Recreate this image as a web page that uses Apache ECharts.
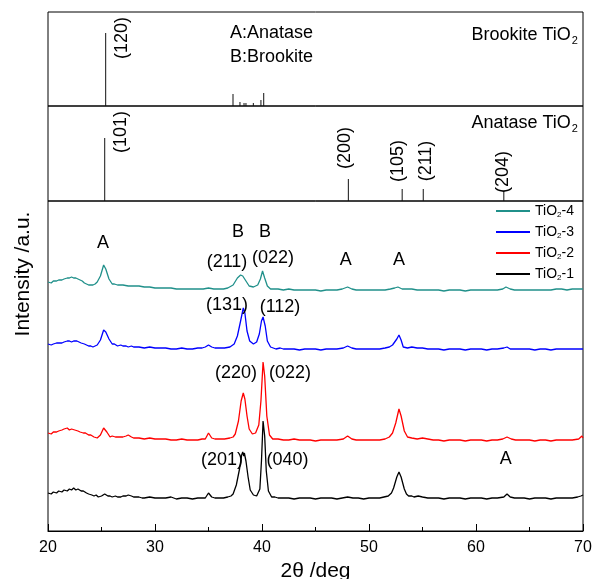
<!DOCTYPE html>
<html lang="en">
<head>
<meta charset="UTF-8">
<title>XRD TiO2</title>
<script src="https://cdn.jsdelivr.net/npm/echarts@6/dist/echarts.min.js"></script>
<style>
body{margin:0;background:#fff}
#main{width:592px;height:579px}
</style>
</head>
<body>
<div id="main"></div>
<script type="text/javascript">
// reference sticks: [2theta, height]
var brookite = [[25.39,73],[37.29,12],[37.94,4],[38.32,3],[38.5,3],[39.19,3],[39.9,6],[40.16,13]];
var anatase = [[25.3,63],[48.07,22],[53.1,12],[55.07,12],[62.6,10]];

// measured patterns (offset, arbitrary units)
var tio1 = [[20,38],[20.3,37],[20.5,39],[20.8,38],[21,40],[21.3,39],[21.5,41],[21.8,40],[22,42],[22.2,41],[22.4,43],[22.6,41],[22.8,42],[23.1,40],[23.3,40],[23.6,38],[23.8,37],[24.1,36],[24.3,35],[24.5,36],[24.7,34],[25.0,35],[25.3,37],[25.6,35],[25.8,35],[26,34],[26.3,35],[26.5,34],[26.8,34],[27,35],[27.3,35],[27.5,36],[27.8,35],[28,34],[28.3,34],[28.5,34],[28.8,33],[29,33],[29.5,34],[30,33],[30.5,33],[31,33],[31.5,34],[32,32],[32.5,33],[33,33],[33.5,32],[34,33],[34.4,33],[34.7,33],[35.0,38],[35.3,34],[35.6,33],[36,33],[36.4,33],[36.8,34],[37.1,35],[37.3,37],[37.6,46],[37.9,62],[38.1,76],[38.2,79],[38.3,75],[38.35,78],[38.5,70],[38.7,54],[38.9,41],[39.2,36],[39.5,35],[39.8,42],[39.95,70],[40.1,110],[40.25,95],[40.4,60],[40.6,40],[40.9,34],[41.2,34],[41.5,33],[42,33],[42.5,33],[43,32],[43.5,33],[44,33],[44.5,33],[45,32],[45.5,33],[46,33],[46.5,33],[47,32],[47.5,33],[48,34],[48.5,33],[49,33],[49.5,32],[50,33],[50.5,33],[51,33],[51.4,34],[51.8,35],[52.1,38],[52.3,43],[52.6,54],[52.8,59],[53.0,54],[53.3,42],[53.5,37],[53.7,35],[54,35],[54.2,34],[54.6,35],[55,34],[55.5,33],[56,33],[56.5,33],[57,32],[57.5,33],[58,33],[58.5,33],[59,32],[59.5,33],[60,33],[60.5,33],[61,32],[61.5,33],[62,33],[62.6,34],[62.9,37],[63.2,34],[63.6,33],[64,33],[64.5,33],[65,32],[65.5,33],[66,33],[66.5,33],[67,32],[67.5,33],[68,33],[68.5,33],[69,33],[69.5,34],[69.8,35],[70,36]];
var tio2 = [[20,98],[20.3,97],[20.5,99],[20.8,99],[21,100],[21.3,101],[21.5,102],[21.8,103],[22,101],[22.2,102],[22.5,101],[22.8,100],[23,99],[23.3,98],[23.5,98],[23.8,96],[24,96],[24.3,94],[24.6,93],[24.9,96],[25.2,103],[25.35,101],[25.5,99],[25.8,94],[26,95],[26.3,94],[26.6,94],[27,94],[27.3,95],[27.5,96],[27.8,94],[28,93],[28.5,93],[29,92],[29.5,93],[30,92],[30.5,92],[31,92],[31.5,91],[32,91],[32.5,92],[33,91],[33.5,91],[34,91],[34.4,92],[34.7,92],[35.0,98],[35.3,93],[35.6,92],[36,92],[36.5,92],[37,93],[37.3,94],[37.5,97],[37.8,110],[38.05,130],[38.25,138],[38.4,132],[38.6,115],[38.8,102],[39.1,97],[39.4,98],[39.7,106],[39.9,130],[40.1,169],[40.25,155],[40.45,115],[40.7,96],[41,92],[41.5,92],[42,91],[42.5,91],[43,92],[43.5,91],[44,91],[44.5,91],[45,90],[45.5,91],[46,91],[46.5,91],[47,91],[47.6,92],[48.0,95],[48.4,92],[48.8,91],[49.3,91],[50,91],[50.5,91],[51,91],[51.5,92],[51.9,94],[52.2,98],[52.5,108],[52.8,122],[53.0,115],[53.3,100],[53.6,94],[54,93],[54.5,92],[55,93],[55.5,92],[56,91],[56.5,91],[57,90],[57.5,91],[58,91],[58.5,91],[59,90],[59.5,91],[60,91],[60.5,91],[61,90],[61.5,91],[62,91],[62.5,92],[62.9,94],[63.3,92],[63.7,91],[64,91],[64.5,91],[65,91],[65.5,90],[66,91],[66.5,91],[67,90],[67.5,91],[68,91],[68.5,91],[69,91],[69.6,92],[69.9,95],[70,93]];
var tio3 = [[20,187],[20.3,186],[20.5,187],[20.8,188],[21,188],[21.3,188],[21.5,189],[21.8,190],[22,190],[22.2,189],[22.4,190],[22.7,190],[22.9,189],[23.1,188],[23.4,187],[23.6,186],[23.8,185],[24.0,185],[24.2,184],[24.4,185],[24.6,186],[24.9,191],[25.2,201],[25.4,199],[25.7,192],[26,187],[26.2,187],[26.5,185],[26.8,186],[27,185],[27.3,185],[27.5,184],[27.8,185],[28,184],[28.5,184],[29,183],[29.5,184],[30,183],[30.5,183],[31,183],[31.5,182],[32,182],[32.5,183],[33,182],[33.5,182],[34,183],[34.4,183],[34.7,184],[35.0,186],[35.3,184],[35.6,183],[36,183],[36.5,183],[37,184],[37.4,187],[37.7,195],[38.0,210],[38.25,223],[38.4,218],[38.6,200],[38.85,190],[39.2,187],[39.5,189],[39.75,197],[39.95,210],[40.1,214],[40.3,205],[40.5,190],[40.8,184],[41.3,182],[41.7,183],[42,182],[42.5,182],[43,182],[43.5,181],[44,182],[44.5,182],[45,182],[45.5,181],[46,182],[46.5,182],[47,182],[47.6,183],[48,185],[48.4,183],[48.8,182],[49.3,182],[50,182],[50.5,182],[51,182],[51.5,183],[51.9,184],[52.2,186],[52.6,192],[52.8,196],[53.0,191],[53.2,184],[53.6,183],[54,184],[54.5,183],[55,183],[55.5,182],[56,182],[56.5,182],[57,181],[57.5,182],[58,182],[58.5,182],[59,181],[59.5,182],[60,182],[60.5,182],[61,181],[61.5,182],[62,182],[62.6,183],[62.9,184],[63.2,182],[63.6,182],[64,182],[64.5,182],[65,182],[65.5,181],[66,182],[66.5,182],[67,181],[67.5,182],[68,182],[68.5,182],[69,182],[69.5,182],[70,182]];
var tio4 = [[20,249],[20.3,248],[20.5,250],[20.8,250],[21,251],[21.3,251],[21.5,252],[21.8,253],[22,253],[22.2,254],[22.4,253],[22.6,253],[22.8,252],[23,251],[23.2,250],[23.4,248],[23.6,247],[23.8,246],[24.0,246],[24.2,246],[24.4,247],[24.6,249],[24.9,255],[25.2,266],[25.4,262],[25.7,252],[26,247],[26.2,247],[26.5,246],[26.8,246],[27,246],[27.5,245],[28,245],[28.5,245],[29,244],[29.5,244],[30,243],[30.5,243],[31,243],[31.5,243],[32,242],[32.5,242],[33,242],[33.5,242],[34,242],[34.5,242],[35,243],[35.5,242],[36,242],[36.4,242],[36.8,243],[37.3,246],[37.7,253],[38.0,256],[38.2,255],[38.5,250],[38.8,245],[39.2,244],[39.6,246],[39.85,252],[40.05,260],[40.25,253],[40.5,245],[40.8,242],[41.2,242],[41.5,242],[42,241],[42.5,242],[43,241],[43.5,241],[44,241],[44.5,241],[45,241],[45.5,240],[46,241],[46.5,241],[47,241],[47.5,242],[48,244],[48.4,242],[48.8,241],[49.3,241],[50,241],[50.5,241],[51,241],[51.5,241],[52,242],[52.4,243],[52.7,244],[53.1,242],[53.5,242],[54,242],[54.5,241],[55,241],[55.5,241],[56,241],[56.5,241],[57,240],[57.5,241],[58,241],[58.5,241],[59,240],[59.5,241],[60,241],[60.5,241],[61,241],[61.5,241],[62,241],[62.5,242],[62.8,244],[63.2,242],[63.6,241],[64,241],[64.5,241],[65,241],[65.5,241],[66,241],[66.5,241],[67,241],[67.5,242],[68,242],[68.5,241],[69,242],[69.5,242],[70,242]];

// labels: [2theta, y, text]
var brookiteNotes = [[26.89,68,'(120)']];
var brookiteText = [[37.0,73,'A:Anatase'],[37.0,49,'B:Brookite']];
var brookiteTitle = [[69.53,71,'Brookite TiO2']];
var anataseNotes = [[26.82,69,'(101)'],[47.76,53,'(200)'],[52.74,40,'(105)'],[55.3,40,'(211)'],[62.5,29,'(204)']];
var anataseTitle = [[69.53,78,'Anatase TiO2']];
var peakNotes = [[25.14,288,'A'],[37.76,299,'B'],[40.28,299,'B'],[36.73,269,'(211)'],[41.03,273,'(022)'],[47.82,271,'A'],[52.8,271,'A'],
  [36.73,226,'(131)'],[41.68,224,'(112)'],[37.57,158,'(220)'],[42.62,158,'(022)'],[36.26,71,'(201)'],[42.38,71,'(040)'],[62.78,72,'A']];

var seriesNames = ['TiO2-4','TiO2-3','TiO2-2','TiO2-1'];
var colors = ['#20908a','#0000ff','#ff0000','#000000'];

var FONT = '"Liberation Sans", Arial, sans-serif';

var myChart = echarts.init(document.getElementById('main'));

function xAx(i, showAxis) {
    return {
        type: 'value', gridIndex: i, min: 20, max: 70, interval: 10,
        axisLine: {show: showAxis, lineStyle: {color: '#000', width: 1}},
        axisTick: {show: showAxis, inside: true, length: 7, lineStyle: {color: '#000'}},
        minorTick: {show: showAxis, splitNumber: 2, length: 4, lineStyle: {color: '#000'}},
        axisLabel: {show: showAxis, fontFamily: FONT, fontSize: 16, color: '#000', margin: 9},
        splitLine: {show: false},
        name: showAxis ? '2θ /deg' : '',
        nameLocation: 'middle', nameGap: 30,
        nameTextStyle: {fontFamily: FONT, fontSize: 21, color: '#000'}
    };
}
function yAx(i, max) {
    return {
        type: 'value', gridIndex: i, min: 0, max: max,
        axisLine: {show: false}, axisTick: {show: false},
        axisLabel: {show: false}, splitLine: {show: false}
    };
}
function notes(data, xi, rotate, align) {
    return {
        type: 'scatter', xAxisIndex: xi, yAxisIndex: xi,
        data: data, symbolSize: 1, itemStyle: {color: 'rgba(0,0,0,0)'}, silent: true, z: 10,
        label: {
            show: true, position: 'inside', rotate: rotate || 0,
            align: align || 'center', verticalAlign: 'middle',
            fontFamily: FONT, fontSize: 18, color: '#000', opacity: 1,
            textBorderWidth: 0,
            formatter: function (p) { return p.value[2].replace('TiO2', 'TiO{s|2}'); },
            rich: {s: {fontFamily: FONT, fontSize: 11, color: '#000', padding: [12, 0, 0, 1]}}
        }
    };
}

var series = [
    {type: 'bar', xAxisIndex: 0, yAxisIndex: 0, data: brookite, barWidth: 1, itemStyle: {color: '#111'}, silent: true},
    {type: 'bar', xAxisIndex: 1, yAxisIndex: 1, data: anatase, barWidth: 1, itemStyle: {color: '#111'}, silent: true}
];
var curves = [tio4, tio3, tio2, tio1];
for (var i = 0; i < curves.length; i++) {
    series.push({
        name: seriesNames[i], type: 'line', xAxisIndex: 2, yAxisIndex: 2,
        data: curves[i], showSymbol: false, symbol: 'none',
        lineStyle: {color: colors[i], width: 1.3}, itemStyle: {color: colors[i]}
    });
}
series.push(notes(brookiteNotes, 0, 90));
series.push(notes(brookiteText, 0, 0, 'left'));
series.push(notes(brookiteTitle, 0, 0, 'right'));
series.push(notes(anataseNotes, 1, 90));
series.push(notes(anataseTitle, 1, 0, 'right'));
series.push(notes(peakNotes, 2, 0));

myChart.setOption({
    backgroundColor: '#fff',
    animation: false,
    grid: [
        {left: 48, right: 9, top: 12, height: 94, show: true, borderColor: '#000', borderWidth: 1, outerBoundsMode: 'none'},
        {left: 48, right: 9, top: 106, height: 95, show: true, borderColor: '#000', borderWidth: 1, outerBoundsMode: 'none'},
        {left: 48, right: 9, top: 201, height: 330, show: true, borderColor: '#000', borderWidth: 1, outerBoundsMode: 'none'}
    ],
    xAxis: [xAx(0, false), xAx(1, false), xAx(2, true)],
    yAxis: [yAx(0, 94), yAx(1, 95), yAx(2, 330)],
    legend: {
        orient: 'vertical', left: 496, top: 204, padding: 0,
        icon: 'rect', itemWidth: 34, itemHeight: 2, itemGap: 6,
        data: seriesNames,
        formatter: function (name) { return '{a|TiO}{s|2}{a|' + name.slice(4) + '}'; },
        textStyle: {
            rich: {
                a: {fontFamily: FONT, fontSize: 14, color: '#000'},
                s: {fontFamily: FONT, fontSize: 8, color: '#000', padding: [8, 0, 0, 0]}
            }
        }
    },
    graphic: [{
        type: 'text', x: 23, y: 274, rotation: Math.PI / 2,
        style: {text: 'Intensity /a.u.', fontFamily: FONT, fontSize: 21, fill: '#000', align: 'center', verticalAlign: 'middle'}
    }],
    series: series
});
</script>
</body>
</html>
